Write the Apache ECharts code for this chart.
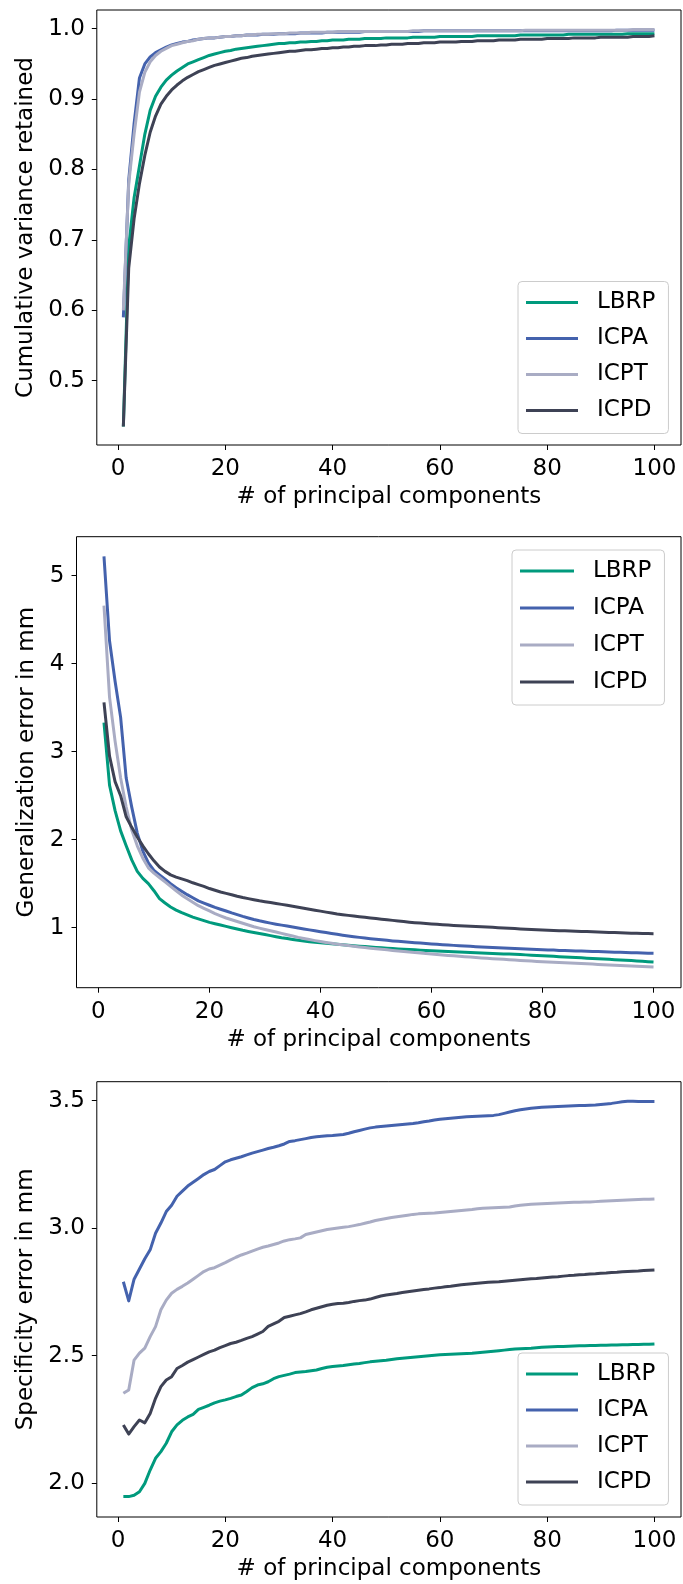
<!DOCTYPE html>
<html><head><meta charset="utf-8">
<script src="https://cdn.jsdelivr.net/npm/echarts@6/dist/echarts.min.js"></script>
<style>html,body{margin:0;padding:0;background:#fff}#c{width:683px;height:1584px}</style>
</head><body><div id="c"></div>
<script>
var seriesNames = ['LBRP', 'ICPA', 'ICPT', 'ICPD'];
var xTicks = [0, 20, 40, 60, 80, 100];
var yTicks1 = [0.5, 0.6, 0.7, 0.8, 0.9, 1.0];
var yTicks2 = [1, 2, 3, 4, 5];
var yTicks3 = [2.0, 2.5, 3.0, 3.5];

// Panel 1: cumulative variance retained
var var_LBRP = [
0.435,0.690,0.760,0.805,0.850,0.884,0.904,0.917,0.927,0.934,
0.940,0.945,0.950,0.953,0.956,0.959,0.962,0.964,0.966,0.968,
0.969,0.971,0.972,0.973,0.974,0.975,0.976,0.977,0.978,0.979,
0.979,0.980,0.980,0.981,0.981,0.982,0.982,0.983,0.983,0.984,
0.984,0.984,0.985,0.985,0.985,0.986,0.986,0.986,0.986,0.987,
0.987,0.987,0.987,0.987,0.988,0.988,0.988,0.988,0.988,0.989,
0.989,0.989,0.989,0.989,0.989,0.989,0.990,0.990,0.990,0.990,
0.990,0.990,0.990,0.990,0.991,0.991,0.991,0.991,0.991,0.991,
0.991,0.991,0.991,0.992,0.992,0.992,0.992,0.992,0.992,0.992,
0.992,0.992,0.992,0.992,0.993,0.993,0.993,0.993,0.993,0.993];
var var_ICPA = [
0.590,0.785,0.865,0.930,0.950,0.960,0.966,0.970,0.974,0.977,
0.979,0.981,0.982,0.984,0.985,0.986,0.987,0.987,0.988,0.989,
0.989,0.990,0.990,0.991,0.991,0.991,0.992,0.992,0.992,0.993,
0.993,0.993,0.993,0.994,0.994,0.994,0.994,0.994,0.995,0.995,
0.995,0.995,0.995,0.995,0.995,0.996,0.996,0.996,0.996,0.996,
0.996,0.996,0.996,0.996,0.996,0.996,0.997,0.997,0.997,0.997,
0.997,0.997,0.997,0.997,0.997,0.997,0.997,0.997,0.997,0.997,
0.997,0.997,0.997,0.997,0.997,0.997,0.997,0.997,0.997,0.997,
0.997,0.997,0.997,0.997,0.997,0.997,0.997,0.997,0.997,0.997,
0.997,0.997,0.998,0.998,0.998,0.998,0.998,0.998,0.998,0.998];
var var_ICPT = [
0.600,0.780,0.850,0.910,0.938,0.953,0.962,0.968,0.972,0.976,
0.978,0.980,0.982,0.983,0.985,0.986,0.987,0.987,0.988,0.989,
0.989,0.990,0.990,0.991,0.991,0.992,0.992,0.992,0.993,0.993,
0.993,0.994,0.994,0.994,0.994,0.995,0.995,0.995,0.995,0.995,
0.996,0.996,0.996,0.996,0.996,0.996,0.996,0.996,0.996,0.996,
0.996,0.996,0.996,0.996,0.997,0.997,0.997,0.997,0.997,0.997,
0.997,0.997,0.997,0.997,0.997,0.997,0.997,0.997,0.997,0.997,
0.997,0.997,0.997,0.997,0.997,0.998,0.998,0.998,0.998,0.998,
0.998,0.998,0.998,0.998,0.998,0.998,0.998,0.998,0.998,0.998,
0.998,0.998,0.998,0.998,0.998,0.999,0.999,0.999,0.999,0.999];
var var_ICPD = [
0.435,0.660,0.730,0.780,0.820,0.853,0.876,0.893,0.904,0.913,
0.920,0.926,0.931,0.935,0.939,0.942,0.945,0.948,0.950,0.952,
0.954,0.956,0.958,0.959,0.961,0.962,0.963,0.964,0.965,0.966,
0.967,0.968,0.968,0.969,0.970,0.970,0.971,0.972,0.972,0.973,
0.973,0.974,0.974,0.975,0.975,0.976,0.976,0.976,0.977,0.977,
0.978,0.978,0.978,0.979,0.979,0.979,0.980,0.980,0.980,0.981,
0.981,0.981,0.981,0.982,0.982,0.982,0.983,0.983,0.983,0.983,
0.984,0.984,0.984,0.984,0.985,0.985,0.985,0.985,0.985,0.986,
0.986,0.986,0.986,0.986,0.987,0.987,0.987,0.987,0.987,0.988,
0.988,0.988,0.988,0.988,0.988,0.989,0.989,0.989,0.989,0.990];

// Panel 2: generalization error
var gen_LBRP = [
3.33,2.62,2.33,2.10,1.93,1.77,1.64,1.56,1.50,1.42,
1.33,1.28,1.235,1.20,1.17,1.145,1.12,1.10,1.08,1.06,
1.045,1.03,1.015,1.00,0.985,0.97,0.957,0.945,0.934,0.922,
0.91,0.898,0.886,0.876,0.866,0.857,0.849,0.841,0.835,0.829,
0.823,0.817,0.811,0.806,0.80,0.795,0.79,0.785,0.78,0.775,
0.771,0.767,0.763,0.759,0.755,0.752,0.748,0.745,0.741,0.738,
0.735,0.732,0.729,0.726,0.723,0.72,0.717,0.715,0.712,0.71,
0.707,0.705,0.702,0.70,0.697,0.694,0.691,0.688,0.684,0.68,
0.677,0.674,0.67,0.667,0.664,0.661,0.658,0.654,0.651,0.648,
0.645,0.641,0.637,0.634,0.63,0.626,0.622,0.618,0.614,0.61];
var gen_ICPA = [
5.22,4.26,3.80,3.39,2.70,2.37,2.075,1.87,1.735,1.65,
1.60,1.55,1.50,1.455,1.415,1.375,1.34,1.305,1.28,1.255,
1.23,1.21,1.19,1.168,1.148,1.128,1.11,1.093,1.078,1.065,
1.052,1.04,1.029,1.018,1.007,0.996,0.985,0.975,0.965,0.955,
0.945,0.935,0.925,0.915,0.906,0.898,0.89,0.882,0.875,0.868,
0.862,0.856,0.85,0.845,0.84,0.835,0.83,0.825,0.82,0.815,
0.811,0.807,0.803,0.799,0.795,0.791,0.788,0.784,0.781,0.778,
0.775,0.772,0.769,0.766,0.763,0.76,0.757,0.755,0.752,0.749,
0.747,0.745,0.742,0.74,0.738,0.736,0.734,0.732,0.73,0.728,
0.726,0.724,0.722,0.72,0.718,0.716,0.714,0.712,0.71,0.709];
var gen_ICPT = [
4.66,3.62,3.12,2.70,2.37,2.11,1.93,1.79,1.68,1.62,
1.57,1.52,1.47,1.42,1.37,1.33,1.29,1.25,1.22,1.19,
1.16,1.135,1.11,1.09,1.07,1.05,1.03,1.01,0.995,0.98,
0.965,0.95,0.935,0.92,0.905,0.89,0.877,0.865,0.853,0.842,
0.832,0.822,0.813,0.805,0.797,0.789,0.781,0.774,0.767,0.76,
0.754,0.748,0.742,0.736,0.73,0.724,0.718,0.712,0.706,0.70,
0.695,0.69,0.685,0.68,0.675,0.67,0.666,0.661,0.656,0.652,
0.648,0.644,0.64,0.636,0.632,0.628,0.624,0.621,0.617,0.614,
0.611,0.608,0.604,0.601,0.598,0.595,0.592,0.589,0.586,0.583,
0.58,0.577,0.574,0.571,0.567,0.564,0.561,0.558,0.555,0.552];
var gen_ICPD = [
3.56,2.95,2.66,2.50,2.26,2.14,2.03,1.93,1.84,1.76,
1.69,1.64,1.60,1.575,1.555,1.535,1.51,1.49,1.47,1.445,
1.425,1.405,1.39,1.375,1.358,1.343,1.33,1.317,1.305,1.295,
1.285,1.275,1.265,1.254,1.243,1.232,1.221,1.21,1.199,1.188,
1.177,1.166,1.156,1.148,1.14,1.132,1.125,1.118,1.111,1.104,
1.097,1.09,1.083,1.077,1.07,1.063,1.057,1.052,1.047,1.042,
1.038,1.034,1.03,1.026,1.023,1.02,1.017,1.014,1.011,1.008,
1.004,1.0,0.996,0.993,0.99,0.986,0.983,0.979,0.976,0.973,
0.97,0.968,0.966,0.964,0.962,0.96,0.958,0.956,0.954,0.952,
0.949,0.946,0.944,0.942,0.94,0.938,0.936,0.934,0.933,0.932];

// Panel 3: specificity error
var spec_LBRP = [
1.948,1.948,1.953,1.967,2.000,2.052,2.098,2.124,2.157,2.202,
2.229,2.247,2.260,2.270,2.290,2.298,2.306,2.315,2.322,2.327,
2.333,2.340,2.346,2.360,2.375,2.385,2.390,2.398,2.410,2.418,
2.423,2.428,2.434,2.436,2.438,2.441,2.444,2.450,2.455,2.458,
2.460,2.462,2.465,2.468,2.470,2.473,2.476,2.478,2.480,2.482,
2.485,2.488,2.490,2.492,2.494,2.496,2.498,2.500,2.502,2.504,
2.505,2.506,2.507,2.508,2.509,2.510,2.512,2.514,2.516,2.518,
2.520,2.522,2.524,2.526,2.527,2.528,2.529,2.531,2.533,2.534,
2.535,2.536,2.536,2.537,2.538,2.539,2.539,2.540,2.540,2.541,
2.541,2.542,2.542,2.543,2.543,2.544,2.544,2.545,2.545,2.546];
var spec_ICPA = [
2.790,2.715,2.800,2.840,2.880,2.915,2.980,3.020,3.065,3.090,
3.125,3.145,3.165,3.180,3.195,3.210,3.222,3.230,3.245,3.260,
3.268,3.274,3.280,3.287,3.294,3.300,3.306,3.312,3.317,3.323,
3.330,3.340,3.343,3.347,3.351,3.355,3.358,3.360,3.362,3.363,
3.365,3.367,3.372,3.378,3.383,3.388,3.393,3.396,3.398,3.400,
3.402,3.404,3.406,3.408,3.410,3.413,3.417,3.420,3.424,3.427,
3.429,3.431,3.433,3.435,3.437,3.438,3.439,3.440,3.441,3.442,
3.445,3.450,3.455,3.460,3.464,3.467,3.470,3.472,3.474,3.475,
3.476,3.477,3.478,3.479,3.480,3.481,3.481,3.482,3.483,3.485,
3.487,3.489,3.492,3.495,3.497,3.497,3.496,3.496,3.496,3.496];
var spec_ICPT = [
2.353,2.366,2.483,2.510,2.530,2.575,2.614,2.680,2.718,2.745,
2.760,2.772,2.785,2.800,2.815,2.830,2.840,2.845,2.855,2.865,
2.876,2.886,2.895,2.902,2.910,2.918,2.925,2.930,2.936,2.942,
2.950,2.955,2.958,2.962,2.975,2.980,2.985,2.990,2.995,2.998,
3.001,3.004,3.006,3.010,3.014,3.019,3.024,3.030,3.034,3.038,
3.042,3.045,3.048,3.051,3.054,3.056,3.057,3.058,3.059,3.061,
3.063,3.065,3.067,3.069,3.071,3.073,3.076,3.078,3.079,3.080,
3.081,3.082,3.083,3.087,3.090,3.092,3.094,3.095,3.096,3.097,
3.098,3.099,3.100,3.101,3.102,3.102,3.103,3.103,3.104,3.105,
3.106,3.107,3.108,3.109,3.110,3.111,3.112,3.113,3.113,3.114];
var spec_ICPD = [
2.229,2.193,2.222,2.248,2.237,2.274,2.333,2.379,2.405,2.418,
2.450,2.462,2.475,2.485,2.495,2.505,2.515,2.522,2.532,2.540,
2.548,2.553,2.560,2.568,2.575,2.585,2.595,2.615,2.625,2.635,
2.650,2.655,2.660,2.665,2.672,2.680,2.686,2.692,2.698,2.702,
2.705,2.706,2.709,2.713,2.716,2.718,2.722,2.728,2.734,2.738,
2.741,2.744,2.748,2.751,2.754,2.757,2.760,2.762,2.765,2.767,
2.770,2.772,2.775,2.778,2.780,2.782,2.784,2.786,2.788,2.789,
2.790,2.792,2.794,2.796,2.798,2.800,2.802,2.803,2.805,2.807,
2.809,2.810,2.812,2.814,2.815,2.817,2.818,2.820,2.821,2.823,
2.824,2.826,2.827,2.829,2.830,2.831,2.832,2.834,2.835,2.836];

var colors = {LBRP: '#009a7d', ICPA: '#4462ad', ICPT: '#a9acc4', ICPD: '#3e4255'};
var FONT = 'DejaVu Sans';

function pairs(arr) { return arr.map(function (v, i) { return [i + 1, v]; }); }

var panels = [
  {data: [var_LBRP, var_ICPA, var_ICPT, var_ICPD], ticks: yTicks1, dec: 1,
   name: 'Cumulative variance retained', min: 0.4087, max: 1.0266,
   grid: {left: 96.8, top: 10, width: 584.2, height: 435}, nameGap: 57,
   legend: {left: 518, top: 281.5, gap: 10, w: 52}},
  {data: [gen_LBRP, gen_ICPA, gen_ICPT, gen_ICPD], ticks: yTicks2, dec: 0,
   name: 'Generalization error in mm', min: 0.318, max: 5.443,
   grid: {left: 76.5, top: 536.7, width: 604.5, height: 451}, nameGap: 37,
   legend: {left: 512, top: 550, gap: 11, w: 54}},
  {data: [spec_LBRP, spec_ICPA, spec_ICPT, spec_ICPD], ticks: yTicks3, dec: 1,
   name: 'Specificity error in mm', min: 1.868, max: 3.574,
   grid: {left: 96.8, top: 1081.7, width: 584.2, height: 435.3}, nameGap: 57,
   legend: {left: 518, top: 1353, gap: 10, w: 52}}
];

var option = {animation: false, backgroundColor: '#fff', grid: [], xAxis: [], yAxis: [], legend: [], series: []};

panels.forEach(function (p, gi) {
  option.grid.push({left: p.grid.left, top: p.grid.top, width: p.grid.width, height: p.grid.height,
    show: true, borderColor: '#000', borderWidth: 1, backgroundColor: 'transparent', containLabel: false});
  option.xAxis.push({
    type: 'value', gridIndex: gi, min: -3.95, max: 104.95,
    name: '# of principal components', nameLocation: 'middle', nameGap: 41,
    nameTextStyle: {fontFamily: FONT, fontSize: 23, color: '#000'},
    axisLine: {show: false, onZero: false},
    axisTick: {show: true, length: 5, customValues: xTicks, lineStyle: {color: '#000', width: 1}},
    axisLabel: {show: true, customValues: xTicks, margin: 13, fontFamily: FONT, fontSize: 23, color: '#000',
      formatter: function (v) { return String(Math.round(v)); }},
    splitLine: {show: false}
  });
  var dec = p.dec;
  option.yAxis.push({
    type: 'value', gridIndex: gi, min: p.min, max: p.max,
    name: p.name, nameLocation: 'middle', nameGap: p.nameGap,
    nameTextStyle: {fontFamily: FONT, fontSize: 23, color: '#000'},
    axisLine: {show: false, onZero: false},
    axisTick: {show: true, length: 5, customValues: p.ticks, lineStyle: {color: '#000', width: 1}},
    axisLabel: {show: true, customValues: p.ticks, margin: 12, fontFamily: FONT, fontSize: 23, color: '#000',
      formatter: function (v) { return v.toFixed(dec); }},
    splitLine: {show: false}
  });
  option.legend.push({
    orient: 'vertical', left: p.legend.left, top: p.legend.top,
    data: seriesNames, icon: 'rect', itemWidth: p.legend.w, itemHeight: 3, itemGap: p.legend.gap,
    backgroundColor: 'rgba(255,255,255,0.8)', borderColor: '#cccccc', borderWidth: 1, borderRadius: 4,
    padding: [8, 13, 10, 8],
    itemStyle: {borderWidth: 0},
    textStyle: {fontFamily: FONT, fontSize: 23, color: '#000', lineHeight: 26, padding: [0, 0, 0, 14]},
    selectedMode: false
  });
  seriesNames.forEach(function (n, si) {
    option.series.push({
      type: 'line', name: n, xAxisIndex: gi, yAxisIndex: gi,
      data: pairs(p.data[si]), symbol: 'none', showSymbol: false, smooth: false,
      color: colors[n],
      lineStyle: {color: colors[n], width: 3, cap: 'butt', join: 'round'},
      itemStyle: {color: colors[n]},
      emphasis: {disabled: true}, z: 2 + si
    });
  });
});

var chart = echarts.init(document.getElementById('c'), null, {renderer: 'canvas'});
chart.setOption(option);
</script></body></html>
